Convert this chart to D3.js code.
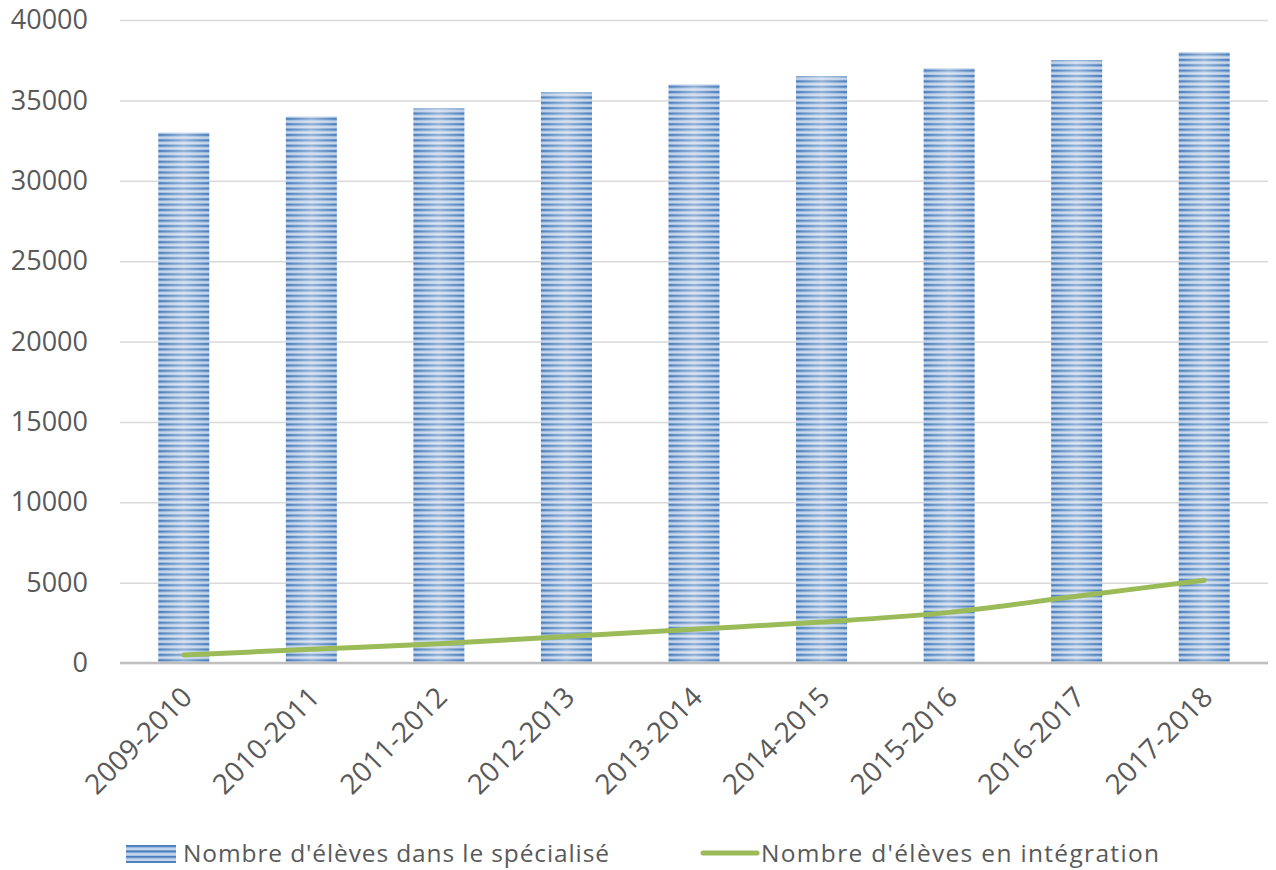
<!DOCTYPE html>
<html>
<head>
<meta charset="utf-8">
<script src="https://cdn.jsdelivr.net/npm/d3@7"></script>
<style>
  html, body { margin: 0; padding: 0; background: #fff; }
  svg { display: block; }
  text { font-family: "Open Sans", "Liberation Sans", sans-serif; fill: #595959; }
</style>
</head>
<body>
<svg id="chart" width="1276" height="870"></svg>
<script>
const categories = ["2009-2010","2010-2011","2011-2012","2012-2013","2013-2014","2014-2015","2015-2016","2016-2017","2017-2018"];
const specialise = [33000, 34000, 34500, 35500, 36000, 36500, 37000, 37500, 38000];
const integration = [500, 850, 1200, 1650, 2100, 2550, 3150, 4150, 5150];
const yTicks = [0, 5000, 10000, 15000, 20000, 25000, 30000, 35000, 40000];
const seriesNames = ["Nombre d'élèves dans le spécialisé", "Nombre d'élèves en intégration"];

const svg = d3.select("#chart");
const W = 1276, H = 870;
const m = { left: 120, right: 8, top: 20, bottom: 207 };
const plotW = W - m.left - m.right, plotH = H - m.top - m.bottom;

const x = d3.scaleBand().domain(categories).range([m.left, m.left + plotW]).paddingInner(0.6).paddingOuter(0.3);
const xc = d => x(d) + x.bandwidth() / 2;
const y = d3.scaleLinear().domain([0, 40000]).range([m.top + plotH, m.top]);

const defs = svg.append("defs");
const pat = defs.append("pattern").attr("id", "stripes").attr("patternUnits", "userSpaceOnUse")
  .attr("width", 10).attr("height", 5.36);
pat.append("rect").attr("width", 10).attr("height", 5.36).attr("fill", "#c8d8ec");
pat.append("rect").attr("y", 0).attr("width", 10).attr("height", 2.2).attr("fill", "#4a7ebb");
pat.append("rect").attr("y", 2.2).attr("width", 10).attr("height", 0.7).attr("fill", "#8eaed8");
pat.append("rect").attr("y", 4.6).attr("width", 10).attr("height", 0.76).attr("fill", "#9ab7dd");
const grad = defs.append("linearGradient").attr("id", "glow").attr("x1", "0").attr("x2", "1").attr("y1", "0").attr("y2", "0");
grad.append("stop").attr("offset", "0").attr("stop-color", "#fff").attr("stop-opacity", 0);
grad.append("stop").attr("offset", "0.5").attr("stop-color", "#fff").attr("stop-opacity", 0.4);
grad.append("stop").attr("offset", "1").attr("stop-color", "#fff").attr("stop-opacity", 0);
const lpat = defs.append("pattern").attr("id", "stripesLeg").attr("patternUnits", "userSpaceOnUse")
  .attr("width", 10).attr("height", 5.36).attr("y", 845);
lpat.append("rect").attr("width", 10).attr("height", 5.36).attr("fill", "#c8d8ec");
lpat.append("rect").attr("width", 10).attr("height", 2.2).attr("fill", "#4a7ebb");
lpat.append("rect").attr("y", 2.2).attr("width", 10).attr("height", 0.7).attr("fill", "#8eaed8");

// gridlines
const yAxis = d3.axisLeft(y).tickValues(yTicks).tickSize(-plotW).tickPadding(32).tickFormat(d3.format("d"));
const gy = svg.append("g").attr("transform", `translate(${m.left},0)`).call(yAxis);
gy.select(".domain").remove();
gy.selectAll(".tick line").attr("stroke", "#d9d9d9").attr("stroke-width", 1.5);
gy.selectAll(".tick text").attr("font-size", 27).style("fill", "#595959")
  .attr("font-family", "'Open Sans', sans-serif");

// bars
const bars = svg.append("g");
bars.selectAll("rect.bar").data(specialise).join("rect").attr("class", "bar")
  .attr("x", (d, i) => x(categories[i])).attr("width", x.bandwidth())
  .attr("y", d => y(d)).attr("height", d => y(0) - y(d)).attr("fill", "url(#stripes)");
bars.selectAll("rect.glow").data(specialise).join("rect").attr("class", "glow")
  .attr("x", (d, i) => x(categories[i])).attr("width", x.bandwidth())
  .attr("y", d => y(d)).attr("height", d => y(0) - y(d)).attr("fill", "url(#glow)");

// x axis
const xAxis = d3.axisBottom(x).tickSize(0).tickPadding(0);
const gx = svg.append("g").attr("transform", `translate(0,${y(0)})`).call(xAxis);
gx.select(".domain").attr("stroke", "#bfbfbf").attr("stroke-width", 2.5)
  .attr("d", `M${m.left},0H${m.left + plotW}`);
gx.selectAll(".tick text").attr("font-size", 28).style("fill", "#595959")
  .attr("font-family", "'Open Sans', sans-serif")
  .attr("text-anchor", "end").attr("dy", 0)
  .attr("transform", "translate(10,36) rotate(-45)");

// line
const line = d3.line().x((d, i) => xc(categories[i])).y(d => y(d)).curve(d3.curveMonotoneX);
svg.append("path").datum(integration).attr("d", line).attr("fill", "none")
  .attr("stroke", "#9bbb59").attr("stroke-width", 5).attr("stroke-linecap", "round");

// legend
const leg = svg.append("g");
leg.append("rect").attr("x", 126).attr("y", 845).attr("width", 50).attr("height", 18).attr("fill", "url(#stripesLeg)");
leg.append("text").attr("x", 183).attr("y", 862).attr("font-size", 24.5).text(seriesNames[0])
  .attr("textLength", 426).attr("lengthAdjust", "spacing");
leg.append("line").attr("x1", 703).attr("x2", 757).attr("y1", 853).attr("y2", 853)
  .attr("stroke", "#9bbb59").attr("stroke-width", 5).attr("stroke-linecap", "round");
leg.append("text").attr("x", 761).attr("y", 862).attr("font-size", 24.5).text(seriesNames[1])
  .attr("textLength", 398).attr("lengthAdjust", "spacing");
</script>
</body>
</html>
